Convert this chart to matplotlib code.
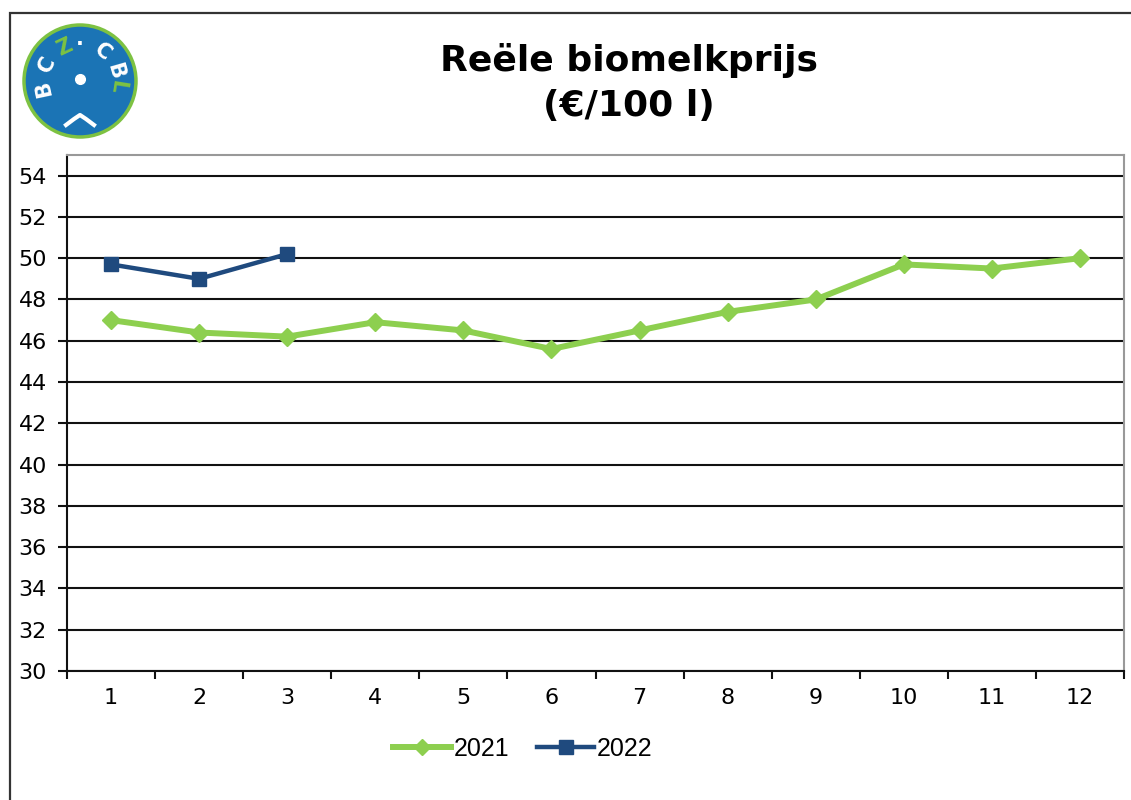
import matplotlib
matplotlib.use("Agg")
import matplotlib.pyplot as plt
from matplotlib.lines import Line2D
from matplotlib.patches import Circle, Rectangle
import numpy as np

months = list(range(1, 13))
prijs_2021 = [47.0, 46.4, 46.2, 46.9, 46.5, 45.6, 46.5, 47.4, 48.0, 49.7, 49.5, 50.0]
maanden_2022 = [1, 2, 3]
prijs_2022 = [49.7, 49.0, 50.2]
y_ticks = list(range(30, 55, 2))

GREEN = "#8dcf4f"
NAVY = "#1f4a7e"

W, H = 1131, 800
fig = plt.figure(figsize=(W / 100, H / 100), dpi=100)

# outer frame (runs off the right/bottom edge of the picture)
fig.patches.append(Rectangle((10 / W, -0.1), 1.2, 1 - 13 / H + 0.1,
                             transform=fig.transFigure, fill=False,
                             edgecolor="#333333", linewidth=1.6))

ax = fig.add_axes([67 / W, 1 - 671 / H, (1124 - 67) / W, (671 - 155) / H])
ax.set_xlim(0.5, 12.5)
ax.set_ylim(30, 55)

for y in y_ticks:
    ax.axhline(y, color="#111111", linewidth=1.5, zorder=1)

ax.plot(months, prijs_2021, color=GREEN, linewidth=4.3, marker="D",
        markersize=9, markeredgecolor=GREEN, zorder=3)
ax.plot(maanden_2022, prijs_2022, color=NAVY, linewidth=3.2, marker="s",
        markersize=10, markeredgecolor=NAVY, zorder=4)

ax.set_yticks(y_ticks)
ax.set_yticklabels([str(v) for v in y_ticks], fontsize=16, family="DejaVu Sans")
ax.set_xticks(np.arange(0.5, 13, 1))
ax.set_xticklabels([])
ax.set_xticks(months, minor=True)
ax.set_xticklabels([str(m) for m in months], minor=True, fontsize=16,
                   family="DejaVu Sans")
ax.tick_params(axis="x", which="major", direction="out", length=6, width=1.5,
               color="#111111")
ax.tick_params(axis="x", which="minor", length=0, pad=12)
ax.tick_params(axis="y", direction="out", length=6.5, width=1.5, color="#111111",
               pad=8)

for side in ("left", "bottom"):
    ax.spines[side].set_color("#111111")
    ax.spines[side].set_linewidth(1.5)
for side in ("right", "top"):
    ax.spines[side].set_color("#999999")
    ax.spines[side].set_linewidth(1.5)

# title
fig.text(629 / W, 1 - 60 / H, "Reële biomelkprijs", ha="center", va="center",
         fontsize=26, fontweight="bold", family="DejaVu Sans")
fig.text(629 / W, 1 - 106 / H, "(€/100 l)", ha="center", va="center",
         fontsize=26, fontweight="bold", family="DejaVu Sans")

# legend
handles = [Line2D([], [], color=GREEN, linewidth=4.3, marker="D", markersize=8),
           Line2D([], [], color=NAVY, linewidth=3.2, marker="s", markersize=10)]
fig.legend(handles, ["2021", "2022"], loc="center", bbox_to_anchor=(523 / W, 1 - 749 / H),
           ncol=2, frameon=False, handlelength=2.3, handletextpad=0.12,
           columnspacing=1.1, borderpad=0, prop={"family": "Liberation Sans", "size": 18})

# logo (simplified)
lax = fig.add_axes([20 / W, 1 - 141 / H, 120 / W, 120 / H])
lax.set_xlim(-60, 60)
lax.set_ylim(-60, 60)
lax.set_aspect("equal")
lax.axis("off")
lax.add_patch(Circle((0, 0), 56, facecolor="#1b74b5", edgecolor="#7dc242", linewidth=2.5))
letters = [("B", 192, "white"), ("C", 153, "white"), ("Z", 115, "#7dc242"),
           ("·", 90, "white"), ("C", 52, "white"), ("B", 16, "white"), ("L", -9, "#7dc242")]
for ch, ang, col in letters:
    a = np.deg2rad(ang)
    lax.text(37 * np.cos(a), 37 * np.sin(a), ch, ha="center", va="center",
             rotation=ang - 90, color=col, fontsize=15, fontweight="bold",
             family="DejaVu Sans")
lax.plot([0], [2], marker="o", color="white", markersize=7)
lax.plot([-14, -6, 0, 6, 14], [-44, -38, -34, -38, -44], color="white", linewidth=3)

fig.savefig("out.png", dpi=100)
